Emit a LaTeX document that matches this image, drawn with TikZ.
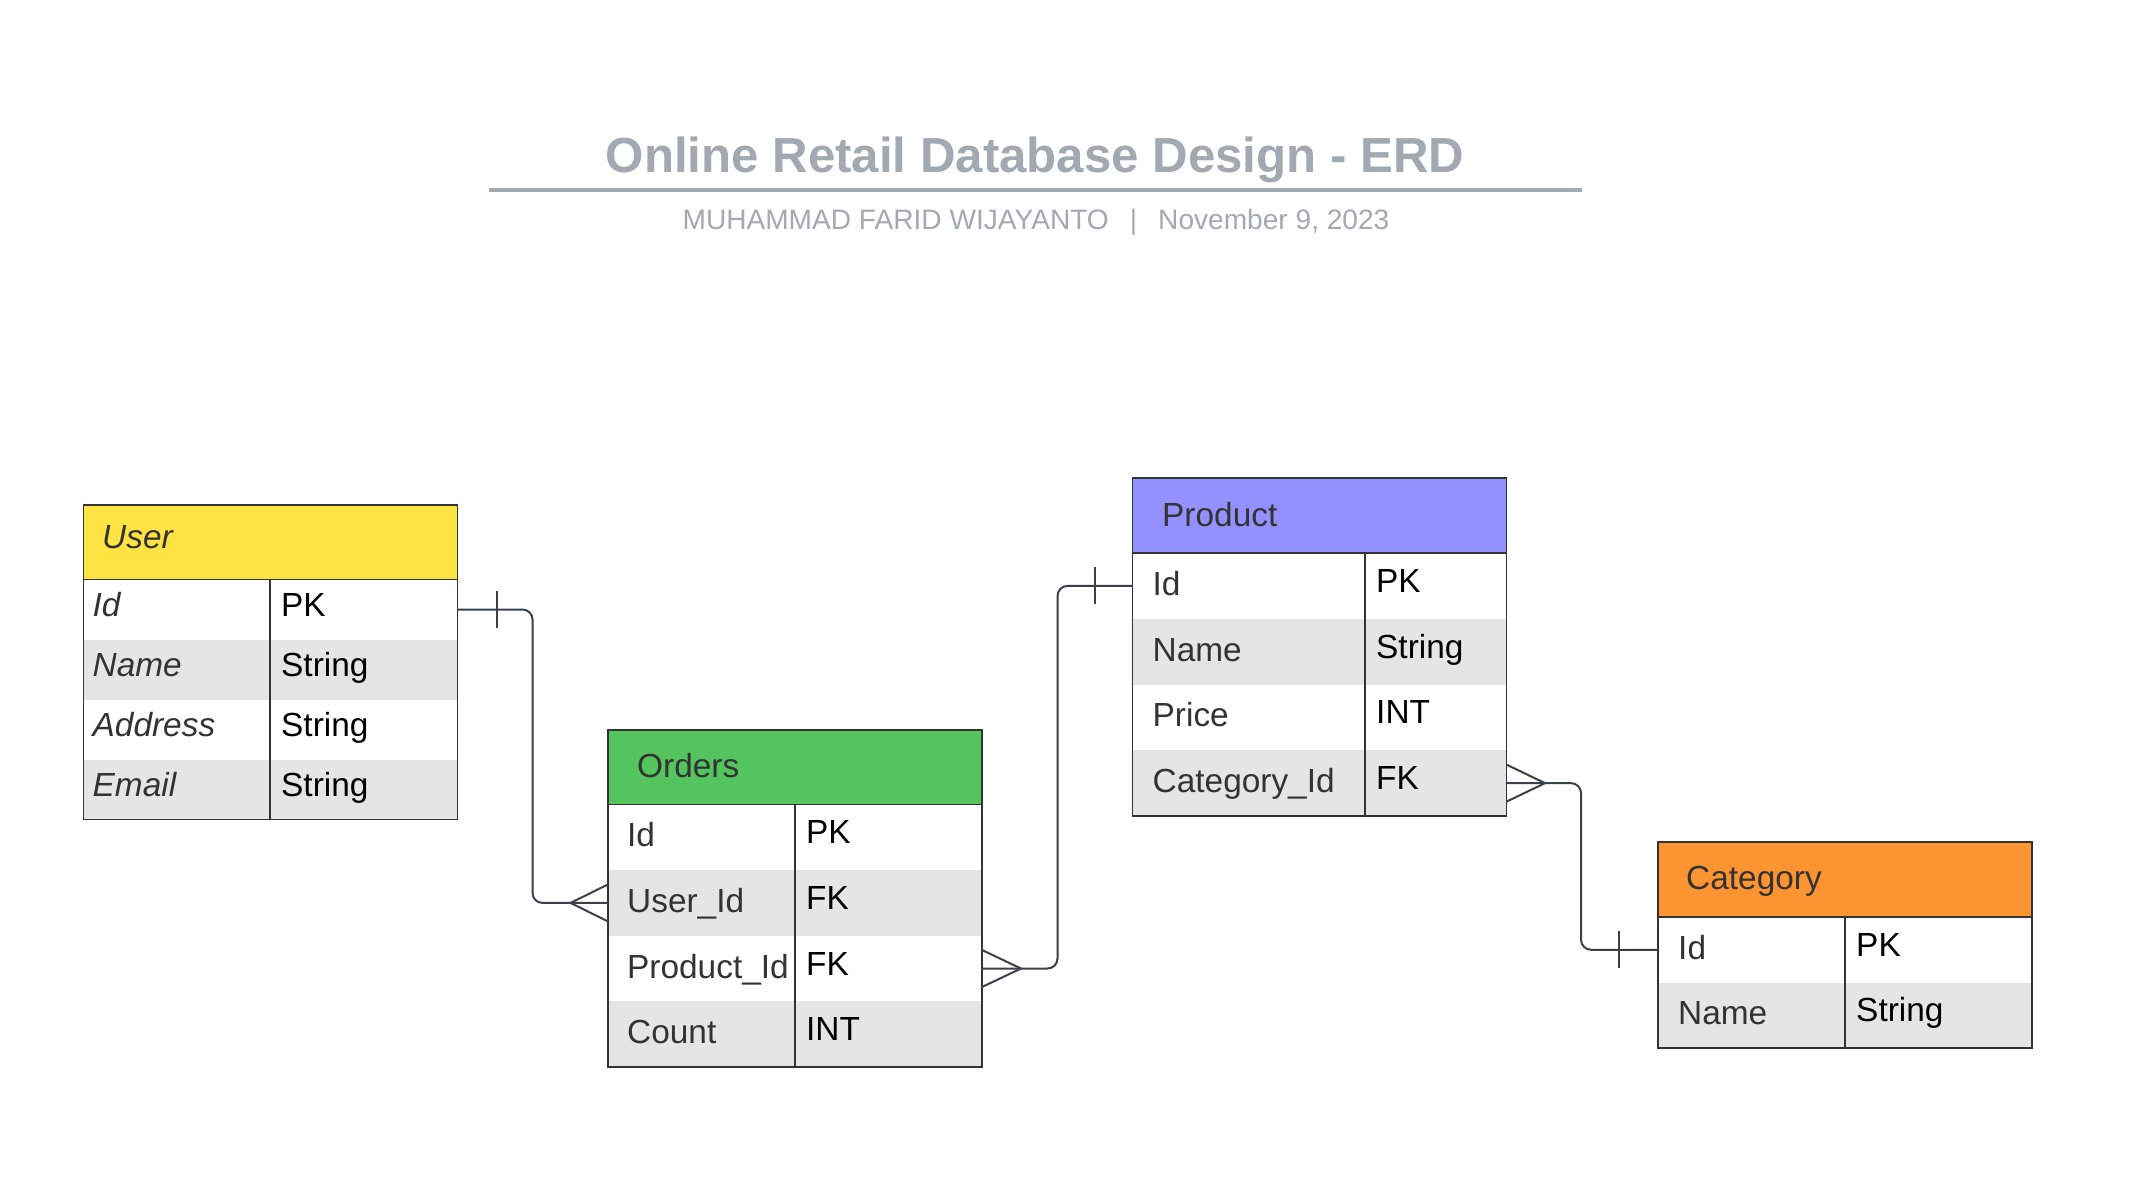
\documentclass[tikz,border=0pt]{standalone}
\usepackage{fontspec}
\setmainfont{Liberation Sans}
\definecolor{userY}{HTML}{FFE342}
\definecolor{ordersG}{HTML}{54C45E}
\definecolor{productP}{HTML}{9391FF}
\definecolor{catO}{HTML}{FC9432}
\definecolor{rowgray}{HTML}{E5E5E5}
\definecolor{bordc}{HTML}{333333}
\definecolor{connc}{HTML}{3A414A}
\definecolor{titlegray}{HTML}{A3A9B2}
\definecolor{txtc}{HTML}{333333}
\tikzset{
  rowbox/.style={anchor=north west, minimum width=374pt, inner sep=0pt, draw=none, outer sep=0pt},
  bordl/.style={draw=bordc, line width=1.6pt},
  fname/.style={anchor=base west, inner sep=0pt, text=txtc, font=\fontsize{33.4}{40}\selectfont},
  ftype/.style={anchor=base west, inner sep=0pt, text=black, font=\fontsize{33.4}{40}\selectfont},
  conn/.style={draw=connc, line width=2pt},
}
\begin{document}
\begin{tikzpicture}[x=1pt,y=-1pt]
\useasboundingbox (0,0) rectangle (2147,1179);
\fill[white] (0,0) rectangle (2147,1179);

% Title
\node[anchor=base, inner sep=0pt, text=titlegray, font=\fontsize{49.2}{58}\selectfont\bfseries] (title) at (1035,172) {Online Retail Database Design - ERD};
\draw[draw=titlegray, line width=4pt] (489,190) -- (1582,190);
\node[anchor=base, inner sep=0pt, text=titlegray, font=\fontsize{28.1}{33}\selectfont] (subtitle) at (1036,229.5) {MUHAMMAD FARID WIJAYANTO\hspace{0.75em}|\hspace{0.75em}November 9, 2023};

% ---------- User ----------
\node[rowbox, fill=userY, minimum height=74.5pt] (user) at (83.5,505) {};
\node[rowbox, fill=white, minimum height=60pt] (user-r1) at (83.5,579.5) {};
\node[rowbox, fill=rowgray, minimum height=60pt] (user-r2) at (83.5,639.5) {};
\node[rowbox, fill=white, minimum height=60pt] (user-r3) at (83.5,699.5) {};
\node[rowbox, fill=rowgray, minimum height=60pt] (user-r4) at (83.5,759.5) {};
\draw[bordl] (user.north west) rectangle (user-r4.south east);
\draw[bordl] (user.south west) -- (user.south east);
\draw[bordl] ([xshift=186.5pt]user-r1.north west) -- ([xshift=186.5pt]user-r4.south west);
\node[fname] (user-h) at (102,548.5) {\itshape User};
\node[fname] (user-n1) at (92.5,616.5) {\itshape Id};
\node[fname] (user-n2) at (92.5,676.5) {\itshape Name};
\node[fname] (user-n3) at (92.5,736.5) {\itshape Address};
\node[fname] (user-n4) at (92.5,796.5) {\itshape Email};
\node[ftype] (user-t1) at (281,616.5) {PK};
\node[ftype] (user-t2) at (281,676.5) {String};
\node[ftype] (user-t3) at (281,736.5) {String};
\node[ftype] (user-t4) at (281,796.5) {String};

% ---------- Orders ----------
\node[rowbox, fill=ordersG, minimum height=74.5pt] (orders) at (608,730) {};
\node[rowbox, fill=white, minimum height=65.6pt] (orders-r1) at (608,804.5) {};
\node[rowbox, fill=rowgray, minimum height=65.6pt] (orders-r2) at (608,870.1) {};
\node[rowbox, fill=white, minimum height=65.6pt] (orders-r3) at (608,935.7) {};
\node[rowbox, fill=rowgray, minimum height=65.6pt] (orders-r4) at (608,1001.3) {};
\draw[bordl] (orders.north west) rectangle (orders-r4.south east);
\draw[bordl] (orders.south west) -- (orders.south east);
\draw[bordl] ([xshift=187pt]orders-r1.north west) -- ([xshift=187pt]orders-r4.south west);
\node[fname] (orders-h) at (637,777) {Orders};
\node[fname] (orders-n1) at (627,846.8) {Id};
\node[fname] (orders-n2) at (627,912.4) {User\_Id};
\node[fname] (orders-n3) at (627,978) {Product\_Id};
\node[fname] (orders-n4) at (627,1043.6) {Count};
\node[ftype] (orders-t1) at (806,843.8) {PK};
\node[ftype] (orders-t2) at (806,909.4) {FK};
\node[ftype] (orders-t3) at (806,975) {FK};
\node[ftype] (orders-t4) at (806,1040.6) {INT};

% ---------- Product ----------
\node[rowbox, fill=productP, minimum height=75pt] (product) at (1132.5,478) {};
\node[rowbox, fill=white, minimum height=65.75pt] (product-r1) at (1132.5,553) {};
\node[rowbox, fill=rowgray, minimum height=65.75pt] (product-r2) at (1132.5,618.75) {};
\node[rowbox, fill=white, minimum height=65.75pt] (product-r3) at (1132.5,684.5) {};
\node[rowbox, fill=rowgray, minimum height=65.75pt] (product-r4) at (1132.5,750.25) {};
\draw[bordl] (product.north west) rectangle (product-r4.south east);
\draw[bordl] (product.south west) -- (product.south east);
\draw[bordl] ([xshift=232.5pt]product-r1.north west) -- ([xshift=232.5pt]product-r4.south west);
\node[fname] (product-h) at (1162,526) {Product};
\node[fname] (product-n1) at (1152.5,595.4) {Id};
\node[fname] (product-n2) at (1152.5,661.1) {Name};
\node[fname] (product-n3) at (1152.5,726.9) {Price};
\node[fname] (product-n4) at (1152.5,792.6) {Category\_Id};
\node[ftype] (product-t1) at (1376,592.4) {PK};
\node[ftype] (product-t2) at (1376,658.1) {String};
\node[ftype] (product-t3) at (1376,723.9) {INT};
\node[ftype] (product-t4) at (1376,789.6) {FK};

% ---------- Category ----------
\node[rowbox, fill=catO, minimum height=75pt] (cat) at (1658,842) {};
\node[rowbox, fill=white, minimum height=65.5pt] (cat-r1) at (1658,917) {};
\node[rowbox, fill=rowgray, minimum height=65.5pt] (cat-r2) at (1658,982.5) {};
\draw[bordl] (cat.north west) rectangle (cat-r2.south east);
\draw[bordl] (cat.south west) -- (cat.south east);
\draw[bordl] ([xshift=187pt]cat-r1.north west) -- ([xshift=187pt]cat-r2.south west);
\node[fname] (cat-h) at (1686,889) {Category};
\node[fname] (cat-n1) at (1678,959.3) {Id};
\node[fname] (cat-n2) at (1678,1024.8) {Name};
\node[ftype] (cat-t1) at (1856,956.3) {PK};
\node[ftype] (cat-t2) at (1856,1021.8) {String};

% ---------- Connectors ----------
% User.Id -> Orders.User_Id
\draw[conn, rounded corners=10pt] (user-r1.east) -- ++(75,0) |- (orders-r2.west);
\draw[conn] ([xshift=39.5pt,yshift=18.5pt]user-r1.east) -- ([xshift=39.5pt,yshift=-18.5pt]user-r1.east);
\draw[conn] ([yshift=18.5pt]orders-r2.west) -- ([xshift=-37.5pt]orders-r2.west) -- ([yshift=-18.5pt]orders-r2.west);

% Orders.Product_Id -> Product.Id
\draw[conn, rounded corners=10pt] (orders-r3.east) -- ++(75.5,0) |- (product-r1.west);
\draw[conn] ([yshift=18.5pt]orders-r3.east) -- ([xshift=39pt]orders-r3.east) -- ([yshift=-18.5pt]orders-r3.east);
\draw[conn] ([xshift=-38pt,yshift=18.5pt]product-r1.west) -- ([xshift=-38pt,yshift=-18.5pt]product-r1.west);

% Product.Category_Id -> Category.Id
\draw[conn, rounded corners=10pt] (product-r4.east) -- ++(74.5,0) |- (cat-r1.west);
\draw[conn] ([yshift=18.5pt]product-r4.east) -- ([xshift=38.5pt]product-r4.east) -- ([yshift=-18.5pt]product-r4.east);
\draw[conn] ([xshift=-39.3pt,yshift=18.5pt]cat-r1.west) -- ([xshift=-39.3pt,yshift=-18.5pt]cat-r1.west);
\end{tikzpicture}
\end{document}
